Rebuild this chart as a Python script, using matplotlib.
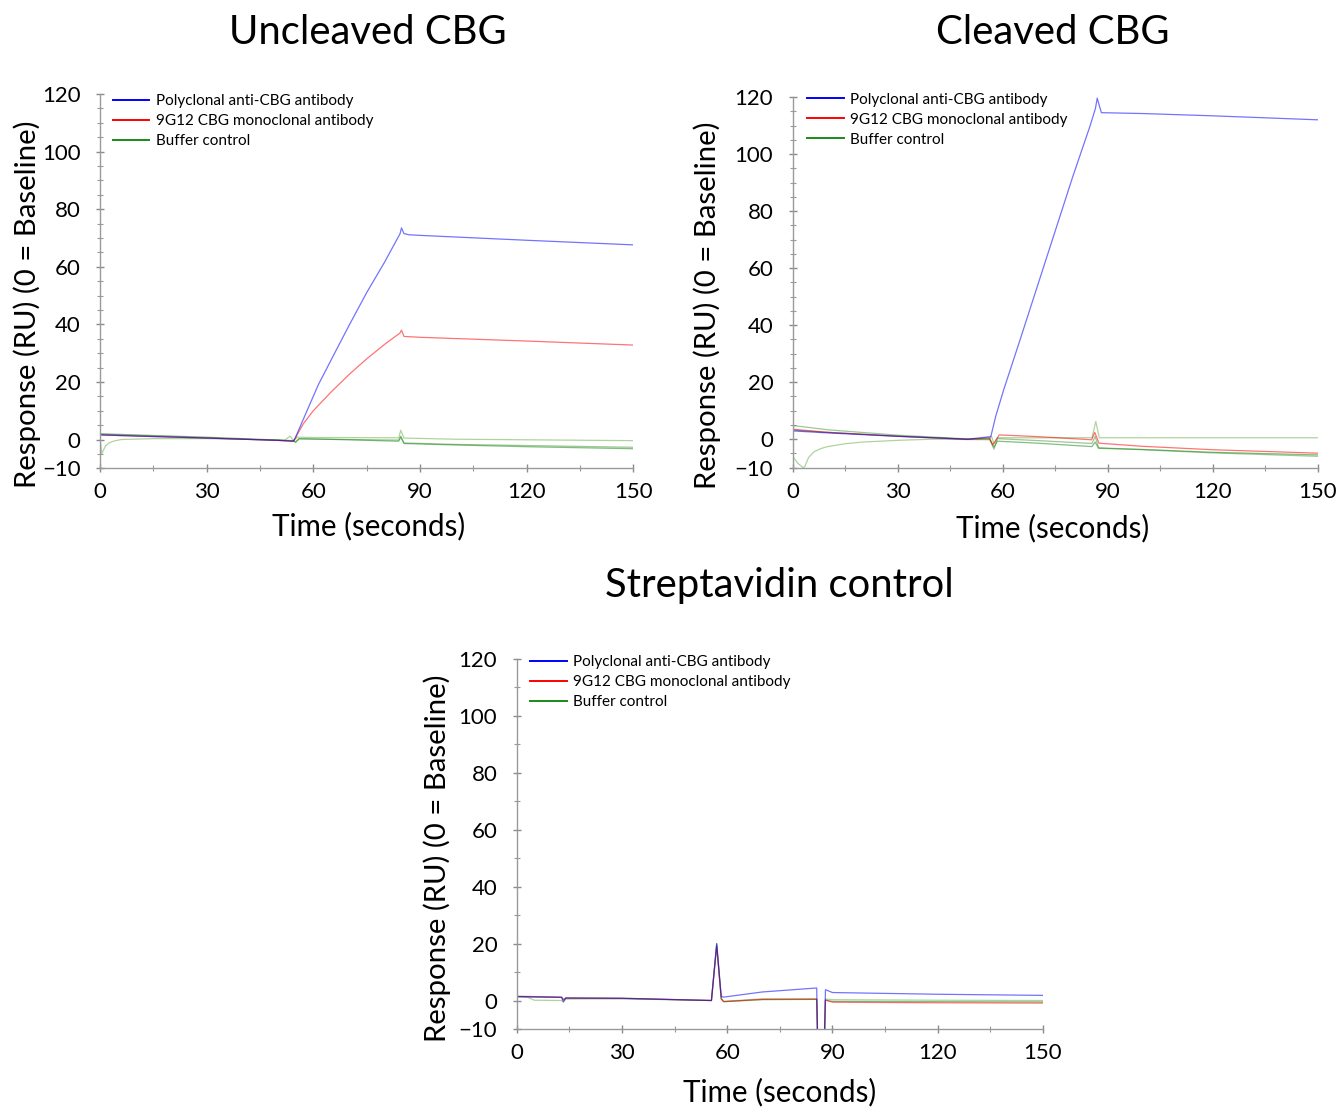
import numpy as np
import matplotlib
matplotlib.use("Agg")
from matplotlib import pyplot as plt
from matplotlib.lines import Line2D
from matplotlib.ticker import MultipleLocator

plt.rcParams['font.family'] = ['Lato', 'DejaVu Sans']

labels = ["Polyclonal anti-CBG antibody", "9G12 CBG monoclonal antibody", "Buffer control"]
colors = ["#0000ff", "#ff0000", "#1a8a1a"]

######################## UNCLEAVED CBG
unc_blue_t = [0, 10, 30, 50, 54.4, 55, 57, 61.4, 66, 70, 75, 80, 84.4, 84.8, 85.5, 87, 90, 120, 150]
unc_blue_y = [1.6, 1.2, 0.5, -0.3, -0.6, 0.8, 6.5, 19, 30, 39.5, 51, 61.5, 71.5, 73.5, 71.5, 71.1, 70.9, 69.2, 67.6]
unc_red_t = [0, 10, 30, 50, 54.4, 55, 57.2, 60, 65, 70, 75, 80, 84.4, 84.8, 85.5, 90, 120, 150]
unc_red_y = [1.6, 1.2, 0.5, -0.3, -0.6, 0.6, 5.5, 10, 16.5, 22.5, 28, 33, 37, 38, 35.8, 35.5, 34.2, 32.8]
unc_g1_t = [0, 30, 54.4, 55, 56, 70, 84, 84.6, 85.5, 100, 120, 150]
unc_g1_y = [2.0, 0.8, -0.4, -1.0, 0.3, -0.1, -0.6, 0.8, -1.4, -1.9, -2.5, -3.2]
unc_g2_t = [0, 0.5, 1, 1.6, 2.5, 4, 6, 15, 30, 52, 53.5, 54.5, 55.5, 60, 84, 84.6, 85.5, 100, 150]
unc_g2_y = [0.5, -5, -3.6, -2.2, -1.2, -0.5, 0, 0.3, 0.3, -0.2, 1.2, -0.5, 0.8, 0.7, 0.6, 3.2, 0.5, 0.1, -0.4]
unc_g3_t = [0, 30, 54.4, 55, 56, 70, 84, 84.6, 85.5, 100, 150]
unc_g3_y = [1.8, 0.6, -0.5, -0.8, 0.2, 0.0, -0.2, 1.2, -1.2, -1.7, -2.7]

######################## CLEAVED CBG
clv_blue_t = [0, 10, 30, 50, 56.6, 58, 60.2, 65, 70, 75, 80, 85, 86.5, 87, 87.6, 88.2, 100, 120, 150]
clv_blue_y = [2.9, 2.2, 1.0, 0.0, 0.9, 8, 17, 35, 54, 73, 92, 110, 116, 119.6, 117, 114.5, 114.2, 113.4, 112]
clv_red_t = [0, 10, 30, 50, 56.2, 57.2, 59, 70, 85.4, 86.3, 87.5, 100, 120, 150]
clv_red_y = [3.5, 2.4, 1.0, -0.1, 0.5, -2.0, 1.5, 0.9, -0.2, 2.4, -1.4, -2.5, -3.7, -4.9]
clv_g1_t = [0, 1.5, 3, 3.5, 4.5, 6, 8, 10, 15, 20, 30, 40, 56, 56.8, 57.5, 58.5, 70, 85.5, 86.6, 87.6, 90, 120, 150]
clv_g1_y = [-6.0, -8.5, -10, -9.5, -6.5, -4.5, -3.3, -2.6, -1.6, -1.0, -0.4, 0, -0.2, 1.0, -1.5, 0.5, 0.5, 0.5, 6.2, 0.5, 0.5, 0.5, 0.5]
clv_g2_t = [0, 10, 30, 50, 56.2, 57.5, 58.5, 70, 85.5, 86.4, 87.4, 100, 120, 150]
clv_g2_y = [4.8, 3.3, 1.4, 0.1, 0.3, -3.5, 0.2, -0.5, -1.5, 1.0, -3.0, -3.7, -4.8, -6.0]
clv_g3_t = [0, 10, 30, 50, 56.2, 57.5, 58.5, 70, 85.5, 86.4, 87.4, 100, 120, 150]
clv_g3_y = [3.2, 2.4, 1.1, 0.0, 0.0, -2.8, -0.7, -1.4, -2.6, -1.0, -3.2, -3.6, -4.6, -5.5]

######################## STREPTAVIDIN CONTROL
stv_blue_t = [0, 12.8, 13.3, 14, 30, 55.5, 57, 58.3, 59, 70, 85.5, 86.2, 87.2, 88, 90, 120, 150]
stv_blue_y = [1.4, 1.1, -0.4, 0.9, 0.8, 0.0, 20, 1.4, 1.2, 3.0, 4.4, -40, -40, 3.8, 2.8, 2.2, 1.8]
stv_red_t = [0, 12.8, 13.3, 14, 30, 55.5, 57, 58.3, 59, 70, 85.5, 86.2, 87.2, 88, 90, 120, 150]
stv_red_y = [1.5, 1.2, 0.3, 0.9, 0.8, 0.0, 19, 0.5, -0.4, 0.4, 0.5, -40, -40, 0.2, -0.6, -0.8, -0.9]
stv_g1_t = [0, 3, 5, 12.8, 13.3, 14, 30, 55.5, 57, 58.3, 59, 70, 85.5, 86.2, 87.2, 88, 90, 120, 150]
stv_g1_y = [1.4, 1.2, 0.1, 0.0, -0.6, 0.5, 0.6, 0.0, 20, 0.8, -0.3, 0.6, 0.5, -40, -40, 0.5, 0.3, 0.1, 0.0]
stv_g2_t = [0, 12.8, 13.3, 14, 30, 55.5, 57, 58.3, 59, 70, 85.5, 86.2, 87.2, 88, 90, 120, 150]
stv_g2_y = [1.3, 1.1, 0.2, 0.8, 0.7, 0.0, 19.5, 0.6, -0.4, 0.3, 0.4, -40, -40, 0.1, -0.3, -0.4, -0.5]

W, H = 1342, 1107
fig = plt.figure(figsize=(W / 100, H / 100), dpi=100)


def px_axes(l, r, t, b):
    return fig.add_axes([l / W, 1 - b / H, (r - l) / W, (b - t) / H])


def style(ax, yminor):
    ax.set_xlim(0, 150)
    ax.set_ylim(-10, 120)
    ax.set_xticks([0, 30, 60, 90, 120, 150])
    ax.xaxis.set_minor_locator(MultipleLocator(15))
    ax.set_yticks([-10, 0, 20, 40, 60, 80, 100, 120])
    ax.yaxis.set_minor_locator(MultipleLocator(yminor))
    for s in ["top", "right"]:
        ax.spines[s].set_visible(False)
    for s in ["left", "bottom"]:
        ax.spines[s].set_color("#9a9a9a")
        ax.spines[s].set_linewidth(1.0)
    ax.tick_params(which="major", direction="inout", length=6, width=1, color="#8a8a8a",
                   labelsize=16)
    ax.tick_params(which="minor", direction="inout", length=4, width=0.8, color="#9a9a9a")
    ax.tick_params(axis="y", which="major", pad=11)
    ax.tick_params(axis="x", which="major", pad=7)
    ax.patch.set_alpha(0)


def legend(ax, x0, y0):
    handles = [Line2D([], [], color=c, lw=1.4) for c in colors]
    ax.legend(handles, labels, loc="upper left", bbox_to_anchor=(x0, y0), frameon=False,
              fontsize=11, handlelength=2.4, handletextpad=0.4, labelspacing=0.4,
              borderpad=0, borderaxespad=0)


def draw(ax, series):
    for t, y, c in series:
        ax.plot(t, y, color=c, lw=0.9, alpha=0.55, clip_on=True)


# panel 1
ax1 = px_axes(100, 633.3, 94, 468.3)
draw(ax1, [(unc_g2_t, unc_g2_y, "#6fb04f"), (unc_g3_t, unc_g3_y, "#4f9a3f"),
           (unc_g1_t, unc_g1_y, "#1a8a1a"), (unc_red_t, unc_red_y, colors[1]),
           (unc_blue_t, unc_blue_y, colors[0])])
style(ax1, 5)
legend(ax1, 0.024, 1.0)

# panel 2
ax2 = px_axes(792.7, 1317.7, 97, 467.7)
draw(ax2, [(clv_g1_t, clv_g1_y, "#6fb04f"), (clv_g2_t, clv_g2_y, "#4f9a3f"),
           (clv_g3_t, clv_g3_y, "#1a8a1a"), (clv_red_t, clv_red_y, colors[1]),
           (clv_blue_t, clv_blue_y, colors[0])])
style(ax2, 5)
legend(ax2, 0.027, 1.012)

# panel 3
ax3 = px_axes(516.7, 1043, 658.7, 1029)
draw(ax3, [(stv_g1_t, stv_g1_y, "#6fb04f"), (stv_g2_t, stv_g2_y, "#1a8a1a"),
           (stv_red_t, stv_red_y, colors[1]), (stv_blue_t, stv_blue_y, colors[0])])
style(ax3, 10)
legend(ax3, 0.025, 1.01)


def ftext(x, y, s, size, rot=0):
    fig.text(x / W, 1 - y / H, s, fontsize=size, ha="center", va="center", rotation=rot)


ftext(368, 33, "Uncleaved CBG", 28.8)
ftext(1053, 33, "Cleaved CBG", 28.8)
ftext(779, 585, "Streptavidin control", 28.8)
ylab = "Response (RU) (0 = Baseline)"
ftext(27, 304, ylab, 21.2, 90)
ftext(707, 305, ylab, 21.2, 90)
ftext(437, 858, ylab, 21.2, 90)
ftext(369, 526, "Time (seconds)", 21.3)
ftext(1053, 528, "Time (seconds)", 21.3)
ftext(780, 1092, "Time (seconds)", 21.3)

fig.savefig("out.png", dpi=100)
